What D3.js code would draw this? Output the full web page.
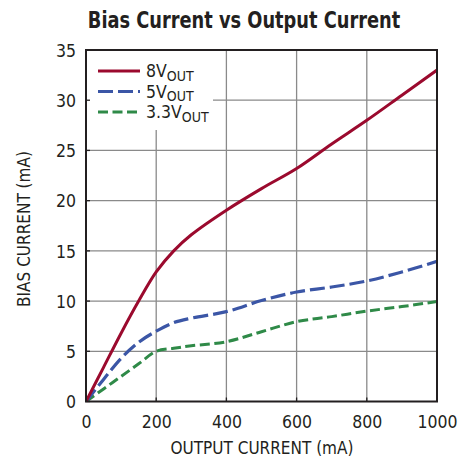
<!DOCTYPE html>
<html><head><meta charset="utf-8">
<script src="https://cdn.jsdelivr.net/npm/d3@7/dist/d3.min.js"></script>
<style>
body{margin:0;background:#fff;}
text{font-family:"Liberation Sans Narrow","DejaVu Sans Condensed","Roboto",sans-serif;fill:#231f20;}
</style></head>
<body><svg id="c" width="474" height="462"></svg>
<script>
const xTicks = [0, 200, 400, 600, 800, 1000];
const yTicks = [0, 5, 10, 15, 20, 25, 30, 35];
const outputCurrent = [0, 50, 100, 150, 200, 250, 300, 400, 500, 600, 700, 800, 900, 1000];
const bias8V  = [0, 3.4, 6.8, 10.0, 12.9, 15.0, 16.6, 19.05, 21.2, 23.2, 25.65, 28.0, 30.5, 33.0];
const bias5V  = [0, 2.2, 4.3, 5.9, 7.0, 7.85, 8.3, 8.95, 10.05, 10.9, 11.4, 12.0, 12.9, 13.95];
const bias33V = [0, 1.25, 2.5, 3.75, 5.0, 5.3, 5.55, 5.95, 6.95, 7.95, 8.45, 9.0, 9.45, 9.95];
const seriesNames = ["8V", "5V", "3.3V"];
const seriesColors = ["#9b0a2e", "#3b56a6", "#2f8a48"];
const seriesDash = [null, "15,5", "10,4.5"];
const seriesWidth = [3, 3.2, 3];
const allSeries = [bias8V, bias5V, bias33V];

const svg = d3.select("#c");
const L = 86, R = 437, T = 50, B = 401.5;
const x = d3.scaleLinear().domain([0, 1000]).range([L, R]);
const y = d3.scaleLinear().domain([0, 35]).range([B, T]);

// grid
const g = svg.append("g");
g.selectAll(".vx").data(xTicks.slice(1, -1)).join("line")
  .attr("x1", d => x(d)).attr("x2", d => x(d)).attr("y1", T).attr("y2", B)
  .attr("stroke", "#8a8a8a").attr("stroke-width", 1.3);
g.selectAll(".hy").data(yTicks.slice(1, -1)).join("line")
  .attr("y1", d => y(d)).attr("y2", d => y(d)).attr("x1", L).attr("x2", R)
  .attr("stroke", "#8a8a8a").attr("stroke-width", 1.3);

// legend background
svg.append("rect").attr("x", L + 1).attr("y", T + 1).attr("width", 126).attr("height", 79).attr("fill", "#fff");

// axes
const fmt = d3.format("d");
const xAxis = d3.axisBottom(x).tickValues(xTicks).tickFormat(fmt).tickSize(0).tickPadding(14);
const yAxis = d3.axisLeft(y).tickValues(yTicks).tickFormat(fmt).tickSize(0).tickPadding(10);
const xa = svg.append("g").attr("transform", `translate(0,${B})`).call(xAxis);
const ya = svg.append("g").attr("transform", `translate(${L},0)`).call(yAxis);
[xa, ya].forEach(a => {
  a.select(".domain").remove();
  a.selectAll("text").attr("font-size", 17.5).attr("fill", "#231f20")
    .style("font-family", '"Liberation Sans Narrow","DejaVu Sans Condensed",sans-serif');
});
xa.selectAll("text").attr("dy", "0.71em");
ya.selectAll("text").attr("dy", "0.36em");
// small inward tick marks
svg.append("g").selectAll("line").data(yTicks).join("line")
  .attr("x1", L).attr("x2", L + 4).attr("y1", d => y(d)).attr("y2", d => y(d))
  .attr("stroke", "#231f20").attr("stroke-width", 1.3);
svg.append("g").selectAll("line").data(xTicks).join("line")
  .attr("x1", d => x(d)).attr("x2", d => x(d)).attr("y1", B).attr("y2", B - 4)
  .attr("stroke", "#231f20").attr("stroke-width", 1.3);

// lines
const line = d3.line().x(d => x(d[0])).y(d => y(d[1])).curve(d3.curveCatmullRom.alpha(0.5));
svg.append("defs").append("clipPath").attr("id", "clip").append("rect")
  .attr("x", L).attr("y", T).attr("width", R - L).attr("height", B - T);
const lg = svg.append("g").attr("clip-path", "url(#clip)");
[2, 1, 0].forEach(i => {
  lg.append("path").datum(outputCurrent.map((v, j) => [v, allSeries[i][j]]))
    .attr("d", line).attr("fill", "none").attr("stroke", seriesColors[i])
    .attr("stroke-width", seriesWidth[i]).attr("stroke-dasharray", seriesDash[i]);
});

// frame
svg.append("rect").attr("x", L).attr("y", T).attr("width", R - L).attr("height", B - T)
  .attr("fill", "none").attr("stroke", "#231f20").attr("stroke-width", 2);

// legend
seriesNames.forEach((n, i) => {
  const ly = 71 + i * 20.5;
  svg.append("line").attr("x1", 98).attr("x2", 140).attr("y1", ly).attr("y2", ly)
    .attr("stroke", seriesColors[i]).attr("stroke-width", seriesWidth[i])
    .attr("stroke-dasharray", seriesDash[i]);
  const t = svg.append("text").attr("x", 146).attr("y", ly + 6).attr("font-size", 17.5);
  t.append("tspan").text(n);
  t.append("tspan").attr("dy", 3.5).attr("font-size", 14).text("OUT");
});

// titles
svg.append("text").attr("transform", "translate(244,28) scale(0.86,1)").attr("text-anchor", "middle")
  .attr("font-size", 23).attr("font-weight", "bold")
  .text("Bias Current vs Output Current");
svg.append("text").attr("x", 262).attr("y", 454).attr("text-anchor", "middle")
  .attr("font-size", 17).text("OUTPUT CURRENT (mA)");
svg.append("text").attr("transform", "translate(30,229) rotate(-90)").attr("text-anchor", "middle")
  .attr("font-size", 17).text("BIAS CURRENT (mA)");
</script></body></html>
